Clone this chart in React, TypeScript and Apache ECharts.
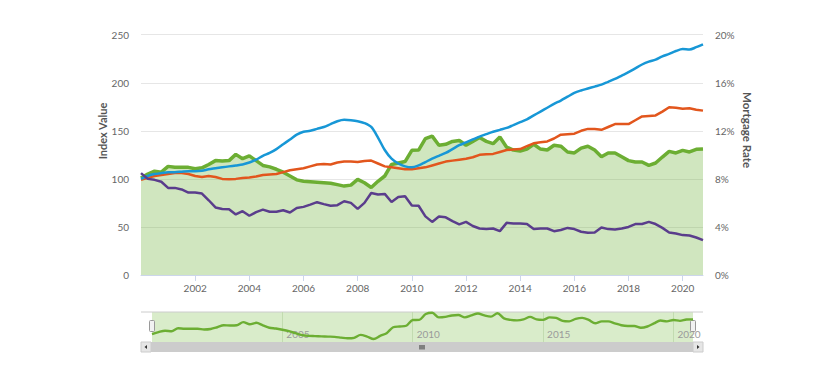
import React, { useEffect, useRef } from "react";
import * as echarts from "echarts";

// Quarterly observations, 2000 Q1 .. 2020 Q4
const startYear = 2000;
const endYear = 2020;

const homePriceIndex = [
  100, 103, 105, 106, 107, 107, 107.5, 108, 108, 108.5, 110, 111, 112, 113, 114, 115,
  117, 120, 124, 127, 131, 136, 141, 146, 149, 150, 152, 154, 157, 160, 161.5, 161,
  160, 158, 154, 143, 130, 121, 116, 113, 112, 114, 117.5, 121, 124, 127, 131, 135,
  138, 141, 144, 146.5, 149, 151, 153, 156, 159, 162, 166, 170, 174, 178, 181.5, 185.5,
  189.5, 192, 194, 196, 198, 201, 204, 207.5, 211, 215, 219, 222, 224, 227.5, 230, 233,
  235, 234.5, 237, 240,
];

const incomeIndex = [
  99, 101, 103, 104, 105, 106, 106, 105, 103, 102, 103, 102, 100, 99.5, 100, 101,
  101.5, 102.5, 104, 104.5, 105, 107, 109, 110, 111, 113, 115, 115.5, 115, 117, 118, 118,
  117.5, 118.5, 119, 116, 113, 112, 111, 110, 110, 111, 112, 114, 116, 118, 119, 120,
  121, 122.5, 125, 125.5, 126, 128, 130, 130.5, 131, 134, 137, 138, 139, 142, 146, 146.5,
  147, 150, 152, 152, 151, 154, 157, 157, 157, 161, 165, 165.5, 166, 170, 174.5, 174,
  173, 173.5, 172, 171,
];

const affordabilityIndex = [
  101, 105, 108, 107, 113, 112, 112, 112, 110.5, 111.5, 115, 119, 118.5, 119, 125.5, 121,
  124, 119, 114, 112.5, 110, 107, 103, 99, 97.5, 97, 96.5, 96, 95.5, 94, 92.5, 93.5,
  99.5, 96, 91, 97.5, 103, 115, 116.5, 118, 129.7, 130, 141.8, 144.5, 135, 136, 139, 140,
  135, 139, 143, 139, 136.6, 143.5, 133, 130, 129, 131, 136, 131, 130, 135, 134, 128,
  127, 132, 134, 130, 123, 127, 127, 123, 119, 117.6, 117.6, 114, 116.5, 122.7, 128.6, 127,
  129.7, 128, 130.7, 131,
];

const mortgageRate = [
  8.48, 8.0, 7.92, 7.76, 7.25, 7.25, 7.12, 6.86, 6.86, 6.78, 6.22, 5.62, 5.5, 5.48, 5.04, 5.31,
  4.93, 5.23, 5.44, 5.26, 5.26, 5.39, 5.2, 5.58, 5.67, 5.86, 6.06, 5.9, 5.76, 5.81, 6.14, 6.0,
  5.5, 6.0, 6.83, 6.7, 6.75, 6.08, 6.5, 6.56, 5.78, 5.76, 4.88, 4.42, 4.86, 4.8, 4.48, 4.21,
  4.42, 4.08, 3.87, 3.82, 3.87, 3.65, 4.34, 4.29, 4.29, 4.24, 3.82, 3.87, 3.87, 3.65, 3.74, 3.92,
  3.82, 3.6, 3.51, 3.54, 3.95, 3.82, 3.79, 3.87, 4.0, 4.24, 4.24, 4.42, 4.24, 3.92, 3.54, 3.46,
  3.32, 3.29, 3.12, 2.9,
];

const leftTicks = { min: 0, max: 250, interval: 50 };
const rightTicks = { min: 0, max: 20, interval: 4 };

const quarterX: number[] = [];
for (let y = startYear; y <= endYear; y++) {
  for (let q = 0; q < 4; q++) quarterX.push(y + q * 0.25);
}

const FONT = "Lato, 'Open Sans', sans-serif";
const BLUE = "#1797d6";
const ORANGE = "#e2561d";
const GREEN = "#6cae33";
const PURPLE = "#5a3d8c";

function pair(arr: number[]) {
  return arr.map((v, i) => [quarterX[i], v]);
}

const yearFmt = (v: number) => String(Math.round(v));

export default function App() {
  const ref = useRef<HTMLDivElement>(null);

  useEffect(() => {
    document.body.style.margin = "0";
    if (!ref.current) return;
    const chart = echarts.init(ref.current, null, { renderer: "svg" });
    const xMax = quarterX[quarterX.length - 1];

    const option: any = {
      animation: false,
      grid: [
        { left: 141, right: 127, top: 34.7, bottom: 93 },
        {
          left: 152,
          right: 137,
          top: 312,
          bottom: 26,
          show: true,
          backgroundColor: "#d9ecca",
          borderWidth: 0,
        },
      ],
      xAxis: [
        {
          gridIndex: 0,
          type: "value",
          min: 2000,
          max: xMax,
          interval: 2,
          axisLine: { lineStyle: { color: "#ccd6eb" } },
          axisTick: { length: 6, lineStyle: { color: "#ccd6eb" } },
          axisLabel: {
            showMinLabel: false,
            showMaxLabel: false,
            color: "#666",
            fontSize: 10,
            margin: 8,
            fontFamily: FONT,
            formatter: yearFmt,
          },
          splitLine: { show: false },
        },
        {
          gridIndex: 1,
          type: "value",
          min: 2000,
          max: xMax,
          interval: 5,
          axisLine: { show: false },
          axisTick: { show: false },
          axisLabel: {
            inside: true,
            align: "left",
            showMinLabel: false,
            showMaxLabel: false,
            color: "#9a9a9a",
            fontSize: 10,
            margin: 3,
            padding: [0, 0, 0, 4],
            fontFamily: FONT,
            formatter: yearFmt,
          },
          splitLine: {
            show: true,
            showMinLine: false,
            showMaxLine: false,
            lineStyle: { color: "#c2dbb0" },
          },
        },
      ],
      yAxis: [
        {
          gridIndex: 0,
          type: "value",
          ...leftTicks,
          axisLine: { show: false },
          axisTick: { show: false },
          axisLabel: { color: "#666", fontSize: 10, margin: 12, fontFamily: FONT },
          splitLine: { lineStyle: { color: "#e6e6e6" } },
        },
        {
          gridIndex: 0,
          type: "value",
          position: "right",
          ...rightTicks,
          axisLine: { show: false },
          axisTick: { show: false },
          axisLabel: {
            color: "#666",
            fontSize: 10,
            margin: 12,
            fontFamily: FONT,
            formatter: "{value}%",
          },
          splitLine: { show: false },
        },
        { gridIndex: 1, type: "value", min: 85, max: 146, show: false },
      ],
      series: [
        {
          type: "line",
          name: "Affordability",
          xAxisIndex: 0,
          yAxisIndex: 0,
          data: pair(affordabilityIndex),
          symbol: "none",
          lineStyle: { color: GREEN, width: 3.5 },
          itemStyle: { color: GREEN },
          areaStyle: { color: "rgba(106,176,52,0.45)", origin: "start" },
          z: 1,
        },
        {
          type: "line",
          name: "Income",
          xAxisIndex: 0,
          yAxisIndex: 0,
          data: pair(incomeIndex),
          symbol: "none",
          lineStyle: { color: ORANGE, width: 2.5 },
          itemStyle: { color: ORANGE },
          z: 2,
        },
        {
          type: "line",
          name: "Home Price",
          xAxisIndex: 0,
          yAxisIndex: 0,
          data: pair(homePriceIndex),
          symbol: "none",
          smooth: 0.3,
          lineStyle: { color: BLUE, width: 2.5 },
          itemStyle: { color: BLUE },
          z: 3,
        },
        {
          type: "line",
          name: "Mortgage Rate",
          xAxisIndex: 0,
          yAxisIndex: 1,
          data: pair(mortgageRate),
          symbol: "none",
          lineStyle: { color: PURPLE, width: 2.5 },
          itemStyle: { color: PURPLE },
          z: 4,
        },
        {
          type: "line",
          name: "Navigator",
          xAxisIndex: 1,
          yAxisIndex: 2,
          data: pair(affordabilityIndex),
          symbol: "none",
          smooth: 0.3,
          lineStyle: { color: GREEN, width: 2.4 },
          itemStyle: { color: GREEN },
          silent: true,
        },
      ],
      graphic: [
        {
          type: "text",
          x: 102,
          y: 131,
          rotation: Math.PI / 2,
          style: {
            text: "Index Value",
            fill: "#555",
            font: `bold 11px ${FONT}`,
            align: "center",
            verticalAlign: "middle",
          },
        },
        {
          type: "text",
          x: 747,
          y: 130,
          rotation: -Math.PI / 2,
          style: {
            text: "Mortgage Rate",
            fill: "#555",
            font: `bold 11.5px ${FONT}`,
            align: "center",
            verticalAlign: "middle",
          },
        },
        {
          type: "line",
          shape: { x1: 141, y1: 312, x2: 703, y2: 312 },
          style: { stroke: "#cccccc", lineWidth: 1 },
        },
        {
          type: "rect",
          shape: { x: 141, y: 342, width: 562, height: 10 },
          style: { fill: "#cccccc" },
        },
        {
          type: "rect",
          shape: { x: 141, y: 342, width: 10, height: 10 },
          style: { fill: "#e6e6e6", stroke: "#cccccc", lineWidth: 1 },
        },
        {
          type: "rect",
          shape: { x: 693, y: 342, width: 10, height: 10 },
          style: { fill: "#e6e6e6", stroke: "#cccccc", lineWidth: 1 },
        },
        {
          type: "polygon",
          shape: { points: [[147, 345], [147, 349], [144.5, 347]] },
          style: { fill: "#333" },
        },
        {
          type: "polygon",
          shape: { points: [[697, 345], [697, 349], [699.5, 347]] },
          style: { fill: "#333" },
        },
        ...[420, 422, 424].map((gx) => ({
          type: "line",
          shape: { x1: gx, y1: 345, x2: gx, y2: 349.5 },
          style: { stroke: "#333", lineWidth: 1 },
        })),
        {
          type: "rect",
          shape: { x: 149.5, y: 320.5, width: 5, height: 11, r: 1 },
          style: { fill: "#f2f2f2", stroke: "#999", lineWidth: 1 },
        },
        {
          type: "rect",
          shape: { x: 690.5, y: 320.5, width: 5, height: 11, r: 1 },
          style: { fill: "#f2f2f2", stroke: "#999", lineWidth: 1 },
        },
      ],
    };
    chart.setOption(option);
    return () => chart.dispose();
  }, []);

  return <div ref={ref} style={{ width: 830, height: 368 }} />;
}
